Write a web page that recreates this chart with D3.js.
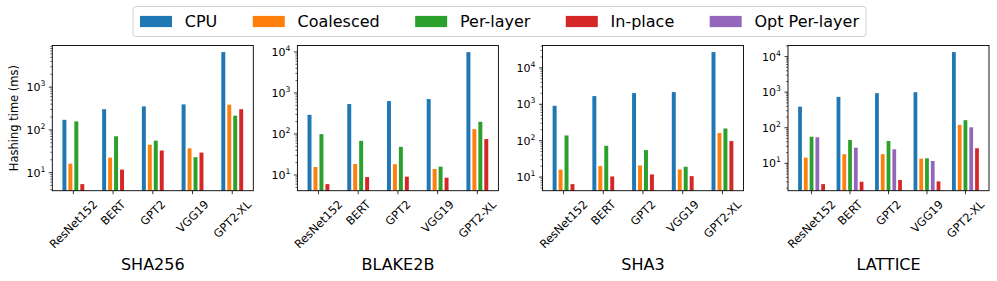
<!DOCTYPE html>
<html>
<head>
<meta charset="utf-8">
<script src="https://cdn.jsdelivr.net/npm/d3@7"></script>
<style>
  html, body { margin: 0; padding: 0; background: #fff; }
  svg { display: block; font-family: "DejaVu Sans", sans-serif; }
</style>
</head>
<body>
<svg id="chart" width="997" height="281"></svg>
<script>
// ---------------- data ----------------
const categories = ["ResNet152", "BERT", "GPT2", "VGG19", "GPT2-XL"];
const panelTitles = ["SHA256", "BLAKE2B", "SHA3", "LATTICE"];
const seriesNames = ["CPU", "Coalesced", "Per-layer", "In-place", "Opt Per-layer"];
const seriesColors = ["#1f77b4", "#ff7f0e", "#2ca02c", "#d62728", "#9467bd"];

// one row per panel (SHA256, BLAKE2B, SHA3, LATTICE), values in ms
const cpuTimes = [
  [172, 305, 355, 395, 6600],
  [293, 536, 634, 710, 9900],
  [910, 1680, 2030, 2160, 27200],
  [393, 738, 937, 1000, 13400]
];
const coalescedTimes = [
  [16.2, 22.5, 45, 37, 390],
  [15.7, 18.6, 18.3, 14, 131],
  [15.9, 20, 20.8, 16.2, 162],
  [14.4, 18, 18, 13.5, 120]
];
const perLayerTimes = [
  [158, 71, 56, 23, 215],
  [99, 68, 48.4, 16, 198],
  [139, 72.4, 55, 19.2, 216],
  [56, 45.3, 42.5, 13.8, 163]
];
const inPlaceTimes = [
  [5.4, 11.8, 33, 29.5, 305],
  [6.0, 8.9, 9.1, 8.6, 75],
  [6.4, 10.4, 11.8, 10.6, 97.5],
  [2.6, 3.03, 3.39, 3.1, 26.5]
];
const optPerLayerTimes = [
  null,
  null,
  null,
  [54, 27.5, 24.8, 11.6, 103]
];

// ---------------- layout ----------------
const svg = d3.select("#chart");
const panelLefts = [52.3, 297.4, 542.5, 788];
const panelWidth = 201;
const plotTop = 45.5, plotBottom = 190.7;
const barW = 0.15;
const tickFont = 11;
const xTickFont = 11.4;

function drawPanel(p) {
  const left = panelLefts[p];
  const g = svg.append("g");
  const order = optPerLayerTimes[p] ? [0, 1, 2, 4, 3] : [0, 1, 2, 3];
  const seriesData = [cpuTimes, coalescedTimes, perLayerTimes, inPlaceTimes, optPerLayerTimes];
  const n = order.length;
  const offsets = order.map((s, k) => (k - (n - 1) / 2) * barW);

  const xmin = -(n / 2) * barW, xmax = (categories.length - 1) + (n / 2) * barW;
  const xr = xmax - xmin;
  const x = d3.scaleLinear().domain([xmin - 0.05 * xr, xmax + 0.05 * xr]).range([left, left + panelWidth]);

  const all = [];
  order.forEach(s => seriesData[s][p].forEach(v => all.push(v)));
  const lmin = Math.log10(d3.min(all)), lmax = Math.log10(d3.max(all));
  const lr = lmax - lmin;
  const y = d3.scaleLog().domain([Math.pow(10, lmin - 0.05 * lr), Math.pow(10, lmax + 0.05 * lr)]).range([plotBottom, plotTop]);

  order.forEach((s, k) => {
    g.append("g").selectAll("rect").data(seriesData[s][p]).join("rect")
      .attr("x", (d, i) => x(i + offsets[k] - barW / 2) + 1)
      .attr("width", x(barW) - x(0) - 2)
      .attr("y", d => y(d))
      .attr("height", d => plotBottom - y(d))
      .attr("fill", seriesColors[s]);
  });

  const [d0, d1] = y.domain();
  const e0 = Math.floor(Math.log10(d0)), e1 = Math.ceil(Math.log10(d1));
  for (let e = e0; e <= e1; e++) {
    for (let m = 1; m <= 9; m++) {
      const v = m * Math.pow(10, e);
      if (v < d0 || v > d1) continue;
      const yy = y(v);
      const len = m === 1 ? 3.5 : 2;
      g.append("line").attr("x1", left).attr("x2", left - len).attr("y1", yy).attr("y2", yy)
        .attr("stroke", "#000").attr("stroke-width", m === 1 ? 0.8 : 0.6);
      if (m === 1) {
        const t = g.append("text").attr("x", left - 7).attr("y", yy + 4)
          .attr("text-anchor", "end").attr("font-size", tickFont).attr("fill", "#000");
        t.append("tspan").text("10");
        t.append("tspan").attr("font-size", 7.7).attr("dy", -5).text(String(e));
      }
    }
  }

  categories.forEach((c, i) => {
    const xx = x(i);
    g.append("line").attr("x1", xx).attr("x2", xx).attr("y1", plotBottom).attr("y2", plotBottom + 3.5)
      .attr("stroke", "#000").attr("stroke-width", 0.8);
    const tg = g.append("g");
    const t = tg.append("text").attr("font-size", xTickFont).attr("text-anchor", "middle")
      .attr("y", 0.346 * xTickFont).attr("fill", "#000").text(c);
    const L = t.node().getComputedTextLength();
    const H = 1.164 * xTickFont;
    const bw = (L + H) * Math.SQRT1_2;
    const topY = plotBottom + 7;
    tg.attr("transform", `translate(${xx},${topY + bw / 2}) rotate(-45)`);
  });

  g.append("rect").attr("x", left).attr("y", plotTop).attr("width", panelWidth).attr("height", plotBottom - plotTop)
    .attr("fill", "none").attr("stroke", "#000").attr("stroke-width", 0.9);

  g.append("text").attr("x", left + panelWidth / 2).attr("y", 269.5).attr("text-anchor", "middle")
    .attr("font-size", 16).attr("fill", "#000").text(panelTitles[p]);

  if (p === 0) {
    g.append("text").attr("transform", `translate(13.5,${(plotTop + plotBottom) / 2}) rotate(-90)`)
      .attr("text-anchor", "middle").attr("dominant-baseline", "central")
      .attr("font-size", 11.5).attr("fill", "#000").text("Hashing time (ms)");
  }
}

for (let p = 0; p < panelTitles.length; p++) drawPanel(p);

// ---------------- legend ----------------
(function legend() {
  const fs = 16;
  const patchW = 2 * fs, patchH = 0.7 * fs, textPad = 0.8 * fs;
  const frameX = 133, frameW = 733, innerPad = 7;
  const lg = svg.append("g");
  const frame = lg.append("rect");
  const items = [];
  let used = 0;
  seriesNames.forEach((name, i) => {
    const t = lg.append("text").attr("font-size", fs).attr("fill", "#000").text(name);
    const w = t.node().getComputedTextLength();
    items.push({ t, w, i });
    used += patchW + textPad + w;
  });
  const colSp = (frameW - 2 * innerPad - used) / (seriesNames.length - 1);
  const yTop = 6.5, hgt = 30;
  const midY = yTop + hgt / 2;
  frame.attr("x", frameX).attr("y", yTop).attr("width", frameW).attr("height", hgt)
    .attr("rx", 3).attr("ry", 3).attr("fill", "#fff").attr("stroke", "#d0d0d0").attr("stroke-width", 1);
  let px = frameX + innerPad;
  items.forEach(it => {
    lg.append("rect").attr("x", px).attr("y", midY - patchH / 2).attr("width", patchW).attr("height", patchH)
      .attr("fill", seriesColors[it.i]);
    it.t.attr("x", px + patchW + textPad).attr("y", midY + 5.8);
    px += patchW + textPad + it.w + colSp;
  });
})();
</script>
</body>
</html>
